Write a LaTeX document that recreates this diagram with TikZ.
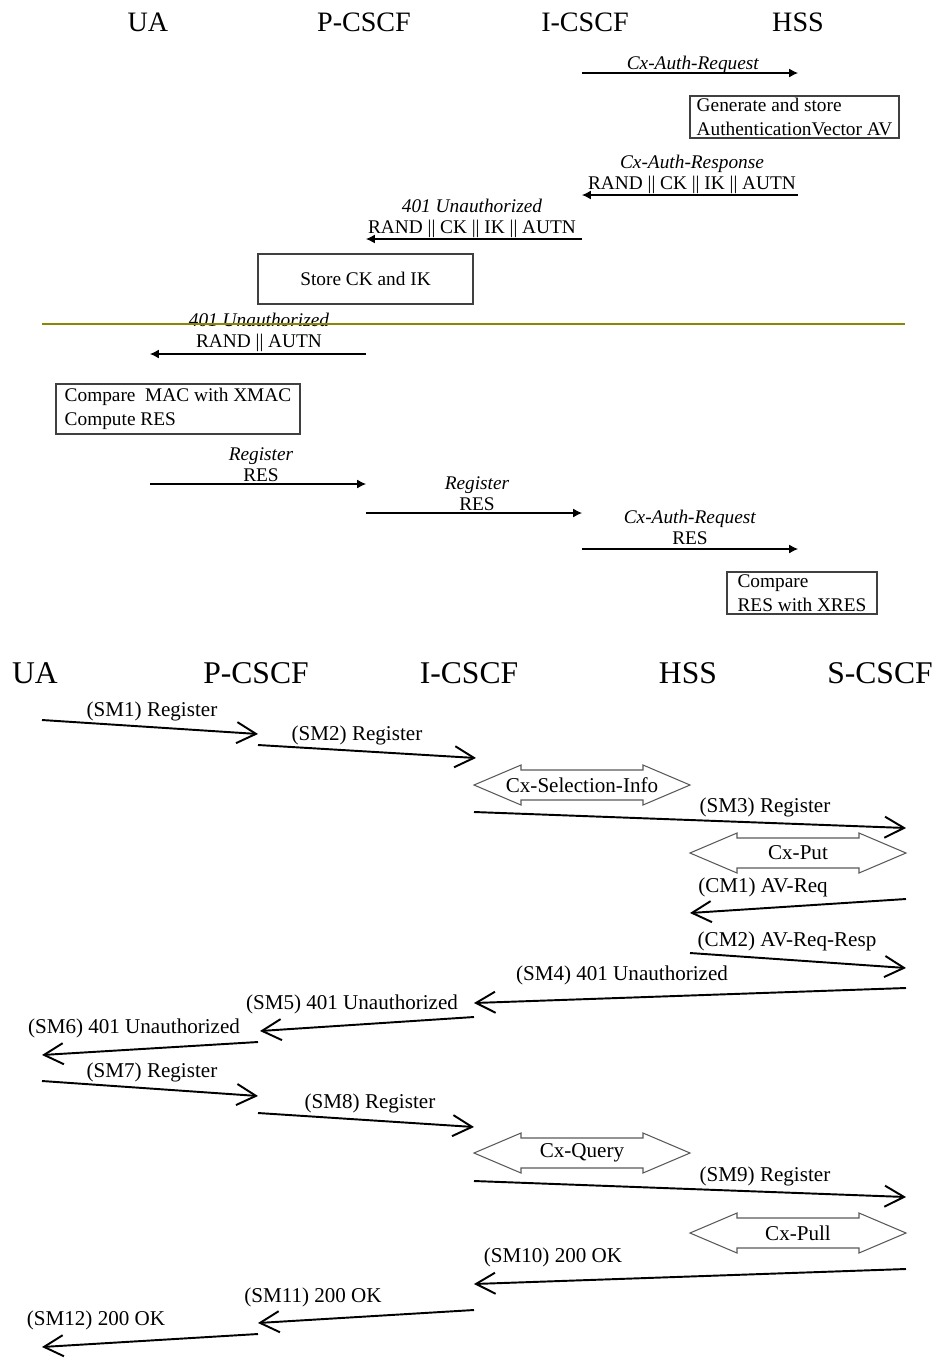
\documentclass[tikz,border=0pt]{standalone}
\usepackage{fontspec}
\setmainfont{Liberation Serif}
\usetikzlibrary{arrows.meta}

\begin{document}
\begin{tikzpicture}
[x=0.02cm,y=-0.02cm,
  every node/.style={inner sep=0pt},
  entityTop/.style={font=\fontsize{16}{18}\selectfont},
  entityBottom/.style={font=\fontsize{18}{20}\selectfont},
  noteBox/.style={draw=black!75,line width=0.7pt,align=left,font=\fontsize{11}{13.6}\selectfont},
  topLabel/.style={align=center,yshift=-1pt,font=\fontsize{11}{12}\selectfont},
  topMsg/.style={line width=0.6pt,-{Latex[length=5pt,width=5pt]}},
  msgLabel/.style={yshift=-1pt,font=\fontsize{12}{14}\selectfont},
  msg/.style={line width=1.1pt,-{Straight Barb[length=11pt,width=12pt,line width=1.1pt]}},
  dblArrow/.style={draw=black!65,line width=0.6pt},
  dblLabel/.style={font=\fontsize{12}{14}\selectfont}]

\useasboundingbox (0,0) rectangle (934,1367);

% authentication part
\foreach \name/\xpos/\txt in {uaTop/148/UA, pcscfTop/364/P-CSCF, icscfTop/585/I-CSCF, hssTop/798/HSS}
  \node[entityTop] (\name) at (\xpos,22) {\txt};

\foreach \name/\xa/\xb/\ypos/\lx/\ly/\txt in {
  authReq/582/798/73/693/63/{\textit{Cx-Auth-Request}},
  authResp/798/582/195/692/173/{\textit{Cx-Auth-Response}\\RAND || CK || IK || AUTN},
  unauthP/582/366/239/472/217/{\textit{401 Unauthorized}\\RAND || CK || IK || AUTN},
  unauthUA/366/150/354/259/331/{\textit{401 Unauthorized}\\RAND || AUTN},
  regP/150/366/484/261/463/{\textit{Register}\\RES},
  regI/366/582/513/477/492/{\textit{Register}\\RES},
  authReqRes/582/798/549/690/526/{\textit{Cx-Auth-Request}\\RES}}
{
  \coordinate (\name-from) at (\xa,\ypos);
  \coordinate (\name-to) at (\xb,\ypos);
  \draw[topMsg] (\name-from) -- (\name-to);
  \node[topLabel] (\name-label) at (\lx,\ly) {\txt};
}

\node[noteBox,minimum width=4.18cm,minimum height=0.84cm] (genAV) at (794.5,117)
  {Generate and store\\AuthenticationVector AV};
\node[noteBox,minimum width=4.3cm,minimum height=1cm,align=center] (storeKeys) at (365.5,279)
  {Store CK and IK};
\node[noteBox,minimum width=4.88cm,minimum height=1cm] (compareMAC) at (178,409)
  {Compare\ \ MAC with XMAC\\Compute RES};
\node[noteBox,minimum width=3cm,minimum height=0.84cm] (compareRES) at (802,593)
  {Compare\\RES with XRES};

\draw[olive,line width=0.8pt] (42,324) -- (905,324);

% registration part
\foreach \name/\xpos/\txt in {ua/35/UA, pcscf/256/P-CSCF, icscf/469/I-CSCF, hss/688/HSS, scscf/880/S-CSCF}
  \node[entityBottom] (\name) at (\xpos,673) {\txt};

\foreach \name/\cx/\cy/\txt in {
  selInfo/582/785/Cx-Selection-Info, put/798/853/Cx-Put,
  query/582/1153/Cx-Query, pull/798/1233/Cx-Pull}
{
  \draw[dblArrow,shift={(\cx,\cy)}] (-108,0) -- (-61,-20) -- (-61,-15) -- (61,-15) -- (61,-20)
    -- (108,0) -- (61,20) -- (61,15) -- (-61,15) -- (-61,20) -- cycle;
  \node[dblLabel] (\name) at (\cx,\cy) {\txt};
}

\foreach \name/\xa/\ya/\xb/\yb/\lx/\ly/\txt in {
  sm1/42/720/258/734/152/710/{(SM1) Register},
  sm2/258/745/476/758/357/734/{(SM2) Register},
  sm3/474/812/906/828/765/806/{(SM3) Register},
  cm1/906/899/690/913/763/886/{(CM1) AV-Req},
  cm2/690/953/906/968/787/940/{(CM2) AV-Req-Resp},
  sm4/906/988/474/1003/622/974/{(SM4) 401 Unauthorized},
  sm5/474/1017/260/1031/352/1003/{(SM5) 401 Unauthorized},
  sm6/258/1042/42/1055/134/1027/{(SM6) 401 Unauthorized},
  sm7/42/1081/258/1096/152/1071/{(SM7) Register},
  sm8/258/1113/474/1127/370/1102/{(SM8) Register},
  sm9/474/1181/906/1197/765/1175/{(SM9) Register},
  sm10/906/1269/474/1284/553/1256/{(SM10) 200 OK},
  sm11/474/1310/258/1323/313/1296/{(SM11) 200 OK},
  sm12/258/1334/42/1347/96/1319/{(SM12) 200 OK}}
{
  \coordinate (\name-from) at (\xa,\ya);
  \coordinate (\name-to) at (\xb,\yb);
  \draw[msg] (\name-from) -- (\name-to);
  \node[msgLabel] (\name-label) at (\lx,\ly) {\txt};
}
\end{tikzpicture}
\end{document}
